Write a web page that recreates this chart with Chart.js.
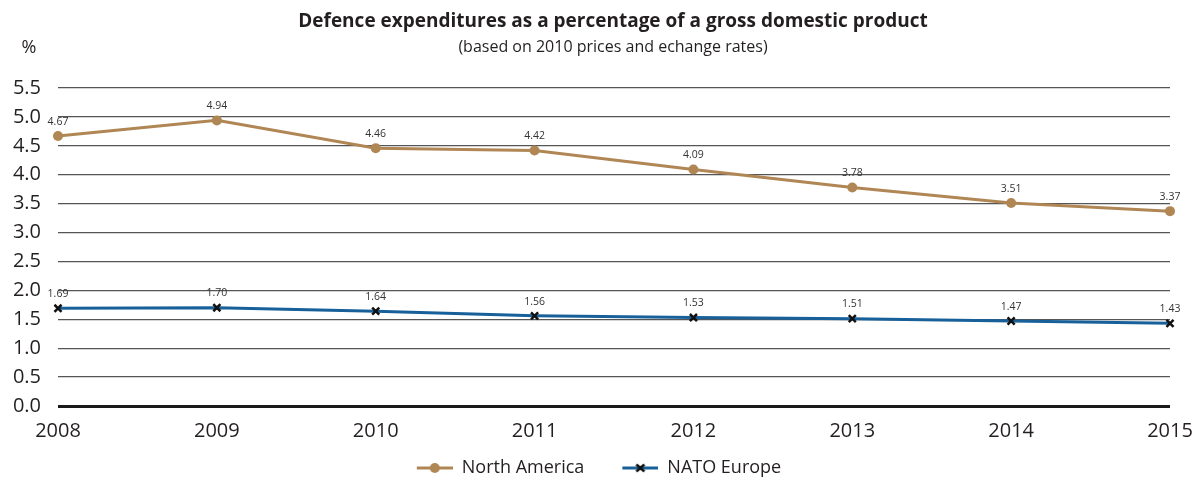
<!DOCTYPE html>
<html>
<head>
<meta charset="utf-8">
<title>Defence expenditures</title>
<script src="https://cdn.jsdelivr.net/npm/chart.js@4.4.1/dist/chart.umd.min.js"></script>
<style>
    html, body { margin: 0; padding: 0; background: #fff; }
    #wrap { width: 1192px; height: 482px; position: relative; }
</style>
</head>
<body>
<div id="wrap"><canvas id="defenceChart" width="1192" height="482"></canvas></div>
<script>
// Data
const years = ['2008', '2009', '2010', '2011', '2012', '2013', '2014', '2015'];
const northAmerica = [4.67, 4.94, 4.46, 4.42, 4.09, 3.78, 3.51, 3.37];
const natoEurope = [1.69, 1.70, 1.64, 1.56, 1.53, 1.51, 1.47, 1.43];
const yTicks = [0, 0.5, 1, 1.5, 2, 2.5, 3, 3.5, 4, 4.5, 5, 5.5];

const FONT = '"Open Sans", "Noto Sans", sans-serif';
const BROWN = '#b08754';
const BLUE = '#17609a';

// line+marker swatch for the legend (left part left blank as spacing)
function legendSwatch(color, marker) {
    const c = document.createElement('canvas');
    c.width = 64; c.height = 14;
    const g = c.getContext('2d');
    g.strokeStyle = color;
    g.lineWidth = 3;
    g.beginPath(); g.moveTo(28, 7); g.lineTo(64, 7); g.stroke();
    if (marker === 'dot') {
        g.fillStyle = color;
        g.beginPath(); g.arc(46, 7, 5, 0, Math.PI * 2); g.fill();
    } else {
        g.strokeStyle = '#111';
        g.lineWidth = 2.5;
        g.beginPath();
        g.moveTo(42, 3.5); g.lineTo(50, 10.5);
        g.moveTo(50, 3.5); g.lineTo(42, 10.5);
        g.stroke();
    }
    return c;
}

// title, subtitle, unit and the value labels above each point
const annotate = {
    id: 'annotate',
    afterDatasetsDraw(chart) {
        const ctx = chart.ctx;
        ctx.save();
        ctx.fillStyle = '#231f20';
        ctx.textAlign = 'center';
        ctx.textBaseline = 'middle';
        ctx.font = 'bold 19px ' + FONT;
        ctx.fillText('Defence expenditures as a percentage of a gross domestic product', 613, 22);
        ctx.font = '16px ' + FONT;
        ctx.fillText('(based on 2010 prices and echange rates)', 613, 47);
        ctx.font = '18px ' + FONT;
        ctx.fillText('%', 29, 48);

        ctx.font = '10.5px ' + FONT;
        ctx.fillStyle = '#333';
        ctx.textBaseline = 'bottom';
        chart.data.datasets.forEach((ds, i) => {
            chart.getDatasetMeta(i).data.forEach((pt, j) => {
                ctx.fillText(ds.data[j].toFixed(2), pt.x, pt.y - 9);
            });
        });
        ctx.restore();
    }
};

new Chart(document.getElementById('defenceChart'), {
    type: 'line',
    data: {
        labels: years,
        datasets: [
            {
                label: 'North America', data: northAmerica,
                borderColor: BROWN, backgroundColor: BROWN, borderWidth: 3,
                pointStyle: 'circle', pointRadius: 5, pointBackgroundColor: BROWN, pointBorderWidth: 0,
                tension: 0, swatch: legendSwatch(BROWN, 'dot')
            },
            {
                label: 'NATO Europe', data: natoEurope,
                borderColor: BLUE, backgroundColor: BLUE, borderWidth: 3,
                pointStyle: 'crossRot', pointRadius: 5, pointBorderColor: '#111', pointBorderWidth: 2.5,
                tension: 0, swatch: legendSwatch(BLUE, 'cross')
            }
        ]
    },
    options: {
        responsive: false,
        animation: false,
        layout: { padding: { top: 88, right: 22, left: 0, bottom: -5 } },
        plugins: {
            tooltip: { enabled: false },
            legend: {
                position: 'bottom',
                labels: {
                    font: { family: FONT, size: 18 },
                    color: '#231f20',
                    usePointStyle: true,
                    pointStyleWidth: 64,
                    padding: 10,
                    generateLabels: (chart) => chart.data.datasets.map((ds, i) => ({
                        text: ds.label, pointStyle: ds.swatch, datasetIndex: i,
                        fontColor: '#231f20', hidden: false, lineWidth: 0
                    }))
                }
            }
        },
        scales: {
            x: {
                offset: false,
                grid: { display: false },
                border: { display: false },
                ticks: { font: { family: FONT, size: 20 }, color: '#231f20', padding: 5, maxRotation: 0 },
                afterFit: (s) => { s.height = 43; s.paddingLeft = 0; s.paddingRight = 0; }
            },
            y: {
                min: 0, max: 5.5,
                afterBuildTicks: (s) => { s.ticks = yTicks.map(v => ({ value: v })); },
                border: { display: false },
                grid: {
                    drawTicks: false,
                    color: (c) => c.tick.value === 0 ? '#1a1a1a' : '#555',
                    lineWidth: (c) => c.tick.value === 0 ? 3 : 1.3
                },
                ticks: {
                    font: { family: FONT, size: 20 }, color: '#231f20', padding: 17,
                    callback: (v) => Number(v).toFixed(1)
                },
                afterFit: (s) => { s.width = 58; }
            }
        }
    },
    plugins: [annotate]
});
</script>
</body>
</html>
